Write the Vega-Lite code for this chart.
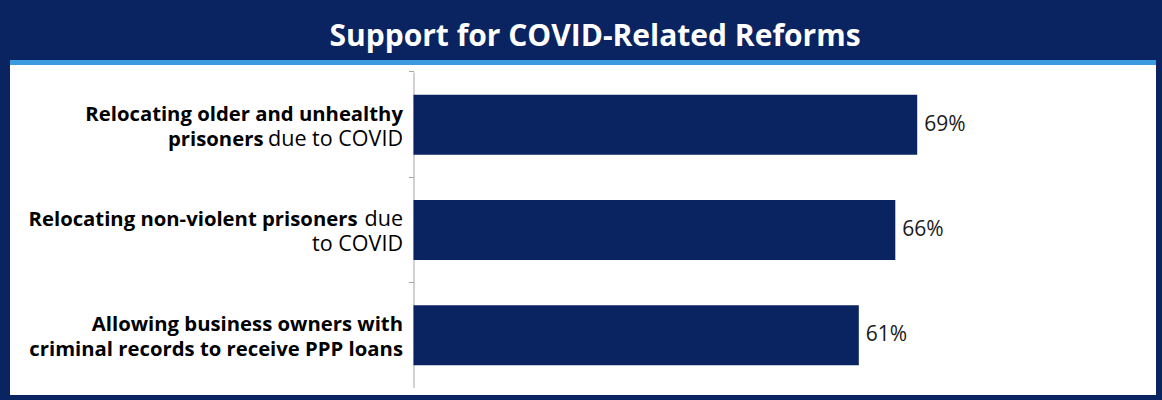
{
  "$schema": "https://vega.github.io/schema/vega-lite/v6.json",
  "background": "#0a2361",
  "padding": {"left": 10, "right": 6, "top": 0, "bottom": 5},
  "spacing": 0,
  "bounds": "flush",
  "config": {"view": {"stroke": null}, "font": "Open Sans"},
  "datasets": {
    "reforms": [
      {"item": "Relocating older and unhealthy prisoners due to COVID", "pct": 0.69, "topBold": "Relocating older and unhealthy", "topRegular": "", "bottomBold": "prisoners", "bottomRegular": "due to COVID"},
      {"item": "Relocating non-violent prisoners due to COVID", "pct": 0.66, "topBold": "Relocating non-violent prisoners", "topRegular": "due", "bottomBold": "", "bottomRegular": "to COVID"},
      {"item": "Allowing business owners with criminal records to receive PPP loans", "pct": 0.61, "topBold": "Allowing business owners with", "topRegular": "", "bottomBold": "criminal records to receive PPP loans", "bottomRegular": ""}
    ],
    "heading": [{"title": "Support for COVID-Related Reforms"}],
    "blank": [{"t": ""}]
  },
  "vconcat": [
    {
      "width": 1146, "height": 60,
      "data": {"name": "heading"},
      "mark": {"type": "text", "color": "white", "fontSize": 30, "fontWeight": "bold", "dx": 12, "dy": 7},
      "encoding": {"text": {"field": "title"}}
    },
    {
      "width": 1146, "height": 5,
      "view": {"fill": "#3a9be0", "stroke": null},
      "data": {"name": "blank"},
      "mark": {"type": "text", "fontSize": 0},
      "encoding": {"text": {"field": "t"}}
    },
    {
      "width": 1146, "height": 7,
      "view": {"fill": "white", "stroke": null},
      "data": {"name": "blank"},
      "mark": {"type": "text", "fontSize": 0},
      "encoding": {"text": {"field": "t"}}
    },
    {
      "width": 1146, "height": 316,
      "view": {"fill": "white", "stroke": null},
      "data": {"name": "reforms"},
      "encoding": {
        "y": {
          "field": "item", "type": "nominal", "sort": null,
          "scale": {"paddingInner": 0.43, "paddingOuter": 0.215},
          "axis": {"title": null, "labels": false, "offset": -403.5, "domainColor": "#a6a6a6", "tickColor": "#a6a6a6", "tickSize": 5, "bandPosition": -0.3772, "grid": false}
        }
      },
      "layer": [
        {
          "mark": {"type": "bar", "color": "#0a2361"},
          "encoding": {
            "x": {"field": "pct", "type": "quantitative", "scale": {"domain": [-0.5527, 1.0171], "nice": false, "zero": false}, "axis": null},
            "x2": {"datum": 0}
          }
        },
        {
          "mark": {"type": "text", "align": "left", "baseline": "middle", "dx": 7, "fontSize": 21, "color": "#1a1a1a"},
          "encoding": {
            "x": {"field": "pct", "type": "quantitative"},
            "text": {"field": "pct", "type": "quantitative", "format": ".0%"}
          }
        },
        {
          "transform": [{"filter": "datum.pct != 0.66"}],
          "mark": {"type": "text", "align": "right", "baseline": "middle", "dx": -10.5, "dy": -10, "fontSize": 20.3, "fontWeight": "bold", "color": "#000000"},
          "encoding": {"x": {"datum": 0}, "text": {"field": "topBold"}}
        },
        {
          "transform": [{"filter": "datum.pct == 0.66"}],
          "mark": {"type": "text", "align": "right", "baseline": "middle", "dx": -56, "dy": -10, "fontSize": 20.3, "fontWeight": "bold", "color": "#000000"},
          "encoding": {"x": {"datum": 0}, "text": {"field": "topBold"}}
        },
        {
          "transform": [{"filter": "datum.pct == 0.66"}],
          "mark": {"type": "text", "align": "right", "baseline": "middle", "dx": -10.5, "dy": -10, "fontSize": 21.5, "color": "#000000"},
          "encoding": {"x": {"datum": 0}, "text": {"field": "topRegular"}}
        },
        {
          "transform": [{"filter": "datum.pct == 0.61"}],
          "mark": {"type": "text", "align": "right", "baseline": "middle", "dx": -10.5, "dy": 15, "fontSize": 20.3, "fontWeight": "bold", "color": "#000000"},
          "encoding": {"x": {"datum": 0}, "text": {"field": "bottomBold"}}
        },
        {
          "transform": [{"filter": "datum.pct == 0.69"}],
          "mark": {"type": "text", "align": "right", "baseline": "middle", "dx": -150, "dy": 15, "fontSize": 20.3, "fontWeight": "bold", "color": "#000000"},
          "encoding": {"x": {"datum": 0}, "text": {"field": "bottomBold"}}
        },
        {
          "transform": [{"filter": "datum.pct != 0.61"}],
          "mark": {"type": "text", "align": "right", "baseline": "middle", "dx": -10.5, "dy": 15, "fontSize": 21.5, "color": "#000000"},
          "encoding": {"x": {"datum": 0}, "text": {"field": "bottomRegular"}}
        }
      ]
    },
    {
      "width": 1146, "height": 7,
      "view": {"fill": "white", "stroke": null},
      "data": {"name": "blank"},
      "mark": {"type": "text", "fontSize": 0},
      "encoding": {"text": {"field": "t"}}
    }
  ]
}
